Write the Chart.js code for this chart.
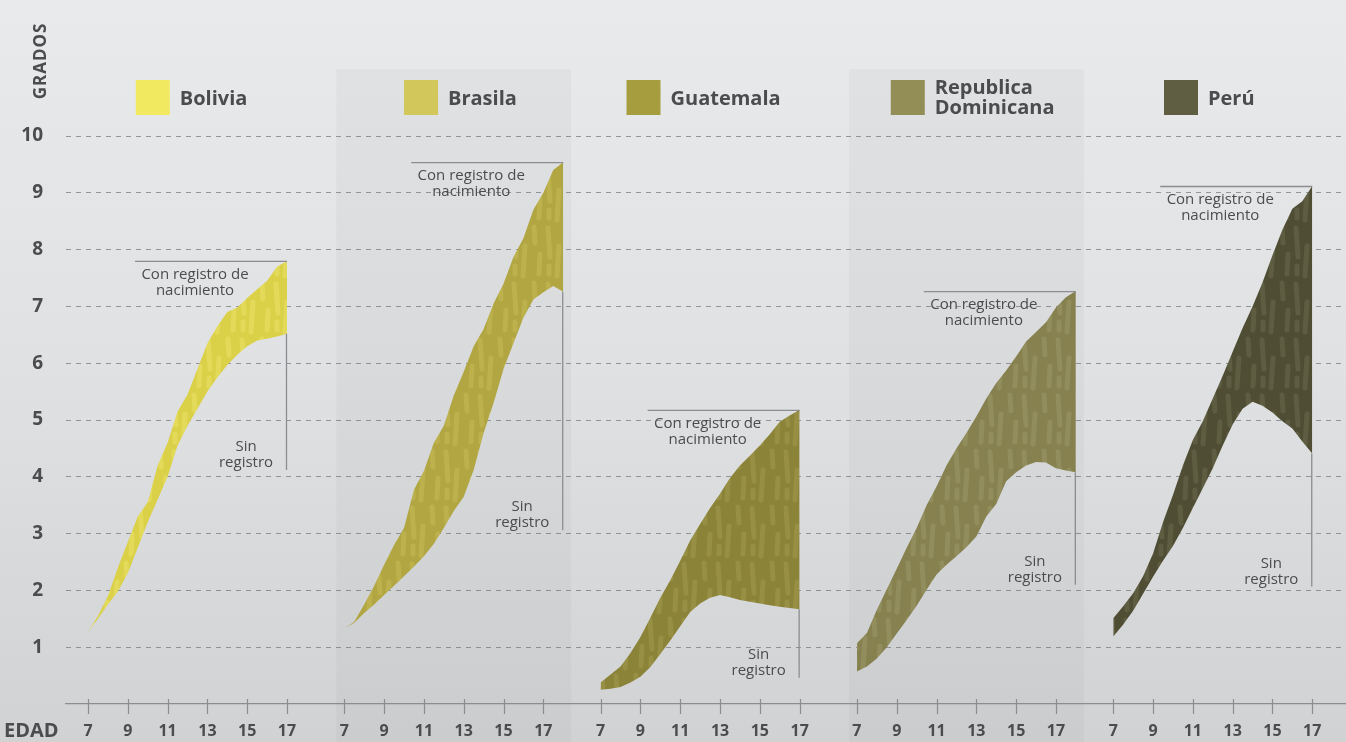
<!DOCTYPE html>
<html>
<head>
<meta charset="utf-8">
<title>Grados por edad</title>
<script src="https://cdn.jsdelivr.net/npm/chart.js@4.4.1/dist/chart.umd.min.js"></script>
<style>
  html, body { margin: 0; padding: 0; background: #e2e3e5; }
  #chart { display: block; }
</style>
</head>
<body>
<canvas id="chart" width="1346" height="742"></canvas>
<script>
"use strict";

// ---- data ----
const countries = ["Bolivia", "Brasila", "Guatemala", "Republica Dominicana", "Perú"];
const ages17 = [7, 7.5, 8, 8.5, 9, 9.5, 10, 10.5, 11, 11.5, 12, 12.5, 13, 13.5, 14, 14.5, 15, 15.5, 16, 16.5, 17];
const ages18 = [7, 7.5, 8, 8.5, 9, 9.5, 10, 10.5, 11, 11.5, 12, 12.5, 13, 13.5, 14, 14.5, 15, 15.5, 16, 16.5, 17, 17.5, 18];

const boliviaCon = [1.27, 1.55, 1.9, 2.4, 2.85, 3.3, 3.55, 4.2, 4.6, 5.15, 5.45, 5.9, 6.35, 6.65, 6.9, 6.98, 7.15, 7.3, 7.45, 7.7, 7.8];
const boliviaSin = [1.27, 1.5, 1.75, 1.98, 2.3, 2.75, 3.2, 3.6, 4.0, 4.55, 4.9, 5.2, 5.5, 5.75, 5.97, 6.15, 6.3, 6.4, 6.43, 6.47, 6.52];

const brasilaCon = [1.33, 1.45, 1.75, 2.08, 2.45, 2.8, 3.1, 3.77, 4.1, 4.6, 4.9, 5.43, 5.85, 6.3, 6.6, 7.05, 7.4, 7.87, 8.2, 8.7, 9.0, 9.4, 9.54];
const brasilaSin = [1.33, 1.43, 1.6, 1.75, 1.92, 2.08, 2.25, 2.42, 2.6, 2.82, 3.1, 3.4, 3.65, 4.12, 4.77, 5.3, 5.9, 6.35, 6.8, 7.12, 7.25, 7.36, 7.26];

const guatemalaCon = [0.38, 0.52, 0.66, 0.9, 1.18, 1.52, 1.87, 2.18, 2.52, 2.88, 3.17, 3.45, 3.7, 3.98, 4.2, 4.37, 4.55, 4.75, 4.97, 5.08, 5.18];
const guatemalaSin = [0.25, 0.27, 0.3, 0.38, 0.48, 0.65, 0.88, 1.12, 1.37, 1.62, 1.77, 1.87, 1.92, 1.88, 1.83, 1.8, 1.77, 1.74, 1.71, 1.69, 1.67];

const dominicanaCon = [1.07, 1.25, 1.66, 2.02, 2.38, 2.75, 3.1, 3.5, 3.83, 4.2, 4.5, 4.77, 5.06, 5.38, 5.65, 5.87, 6.12, 6.38, 6.55, 6.72, 6.98, 7.16, 7.27];
const dominicanaSin = [0.57, 0.66, 0.8, 1.0, 1.24, 1.48, 1.73, 2.01, 2.28, 2.45, 2.6, 2.76, 2.95, 3.3, 3.52, 3.92, 4.08, 4.2, 4.26, 4.25, 4.15, 4.11, 4.08];

const peruCon = [1.51, 1.72, 1.95, 2.25, 2.65, 3.2, 3.68, 4.2, 4.65, 4.98, 5.38, 5.78, 6.2, 6.62, 7.0, 7.42, 7.9, 8.35, 8.72, 8.85, 9.12];
const peruSin = [1.19, 1.4, 1.64, 1.94, 2.24, 2.52, 2.78, 3.1, 3.45, 3.8, 4.15, 4.55, 4.92, 5.2, 5.32, 5.25, 5.13, 4.98, 4.85, 4.62, 4.41];

const xTickLabels = [7, 9, 11, 13, 15, 17];
const yTickLabels = [1, 2, 3, 4, 5, 6, 7, 8, 9, 10];

// ---- layout / style ----
const PANEL_SHIFT = 12.88;          // x units between the 5 small charts
const legendAge = [9.4, 10.0, 8.3, 8.7, 9.55];
const sinLineEnd = [4.12, 3.06, 0.46, 2.1, 2.07];   // where the "Sin registro" leader stops
const bandBase = ["#dbd149", "#b1a641", "#8b8337", "#86814f", "#4f4e34"];
const bandLight = ["#e3da5a", "#bcb14d", "#978f43", "#928d5d", "#5e5d42"];
const legendColors = ["#f1e95f", "#d2c75a", "#a69d3f", "#938d56", "#5f5e43"];
const TEXT = "#4b4c4e";
const FONT = "'Open Sans', 'Noto Sans', sans-serif";

// soft streaky texture like the printed original
function makePattern(base, light) {
  const c = document.createElement("canvas");
  c.width = 34; c.height = 56;
  const g = c.getContext("2d");
  g.fillStyle = base;
  g.fillRect(0, 0, 34, 56);
  g.strokeStyle = light;
  g.lineCap = "round";
  g.lineWidth = 5;
  g.beginPath();
  g.moveTo(4, 4); g.lineTo(6, 33);
  g.moveTo(15, 22); g.lineTo(13, 52);
  g.moveTo(24, 3); g.lineTo(25, 19);
  g.moveTo(30, 30); g.lineTo(29, 50);
  g.moveTo(5, 42); g.lineTo(5, 50);
  g.stroke();
  return g.createPattern(c, "repeat");
}

const series = [
  { ages: ages17, con: boliviaCon, sin: boliviaSin },
  { ages: ages18, con: brasilaCon, sin: brasilaSin },
  { ages: ages17, con: guatemalaCon, sin: guatemalaSin },
  { ages: ages18, con: dominicanaCon, sin: dominicanaSin },
  { ages: ages17, con: peruCon, sin: peruSin }
];

const datasets = [];
series.forEach(function (s, i) {
  const off = i * PANEL_SHIFT;
  datasets.push({
    label: countries[i] + " con registro",
    data: s.ages.map(function (a, k) { return { x: a + off, y: s.con[k] }; }),
    fill: "+1",
    backgroundColor: makePattern(bandBase[i], bandLight[i]),
    borderWidth: 0,
    pointRadius: 0,
    tension: 0
  });
  datasets.push({
    label: countries[i] + " sin registro",
    data: s.ages.map(function (a, k) { return { x: a + off, y: s.sin[k] }; }),
    fill: false,
    borderWidth: 0,
    pointRadius: 0,
    tension: 0
  });
});

// background, shaded panels, legend boxes, annotations
const decorPlugin = {
  id: "decor",
  beforeDraw(chart) {
    const ctx = chart.ctx;
    const x = chart.scales.x;
    const g = ctx.createLinearGradient(0, 0, 0, chart.height);
    g.addColorStop(0, "#e9eaec");
    g.addColorStop(0.5, "#e0e1e3");
    g.addColorStop(1, "#d1d2d4");
    ctx.save();
    ctx.fillStyle = g;
    ctx.fillRect(0, 0, chart.width, chart.height);
    ctx.fillStyle = "rgba(110,112,118,0.06)";
    [1, 3].forEach(function (i) {
      const l = x.getPixelForValue(6.6 + i * PANEL_SHIFT);
      const r = x.getPixelForValue(18.4 + i * PANEL_SHIFT);
      ctx.fillRect(l, 69, r - l, chart.height - 69);
    });
    ctx.restore();
  },
  afterDatasetsDraw(chart) {
    const ctx = chart.ctx;
    const x = chart.scales.x, y = chart.scales.y;
    ctx.save();
    series.forEach(function (s, i) {
      const off = i * PANEL_SHIFT;
      const last = s.ages.length - 1;
      const ex = x.getPixelForValue(s.ages[last] + off);
      const topY = y.getPixelForValue(s.con[last]);
      const lowY = y.getPixelForValue(s.sin[last]);
      const botY = y.getPixelForValue(sinLineEnd[i]);
      ctx.strokeStyle = "#8c8d90";
      ctx.lineWidth = 1.3;
      ctx.beginPath();
      ctx.moveTo(ex - 152, topY + 0.5);
      ctx.lineTo(ex, topY + 0.5);
      ctx.moveTo(ex - 0.5, lowY);
      ctx.lineTo(ex - 0.5, botY);
      ctx.stroke();

      ctx.fillStyle = TEXT;
      ctx.font = "15px " + FONT;
      ctx.textAlign = "center";
      ctx.textBaseline = "middle";
      ctx.fillText("Con registro de", ex - 152 + 60, topY + 14);
      ctx.fillText("nacimiento", ex - 152 + 60, topY + 30);
      ctx.fillText("Sin", ex - 41, botY - 23);
      ctx.fillText("registro", ex - 41, botY - 7);

      // legend
      const bx = x.getPixelForValue(legendAge[i] + off);
      ctx.fillStyle = legendColors[i];
      ctx.fillRect(bx, 80, 34, 35);
      ctx.fillStyle = TEXT;
      ctx.font = "bold 20px " + FONT;
      ctx.textAlign = "left";
      const parts = countries[i].split(" ");
      if (parts.length > 1) {
        ctx.fillText(parts[0], bx + 44, 88);
        ctx.fillText(parts[1], bx + 44, 108);
      } else {
        ctx.fillText(countries[i], bx + 44, 99);
      }
    });
    ctx.restore();
  },
  afterDraw(chart) {
    const ctx = chart.ctx;
    const x = chart.scales.x;
    const base = chart.chartArea.bottom;
    ctx.save();
    ctx.strokeStyle = "#8c8d90";
    ctx.lineWidth = 1.2;
    ctx.beginPath();
    x.ticks.forEach(function (t) {
      const px = Math.round(x.getPixelForValue(t.value)) + 0.5;
      ctx.moveTo(px, base - 5);
      ctx.lineTo(px, base + 10);
    });
    ctx.stroke();

    ctx.fillStyle = TEXT;
    ctx.font = "bold 20px " + FONT;
    ctx.textAlign = "left";
    ctx.textBaseline = "middle";
    ctx.fillText("EDAD", 4, 731);

    ctx.translate(41, 61);
    ctx.rotate(-Math.PI / 2);
    ctx.textAlign = "center";
    ctx.font = "bold 17px " + FONT;
    ctx.letterSpacing = "1px";
    ctx.fillText("GRADOS", 0, 0);
    ctx.restore();
  }
};

const chart = new Chart(document.getElementById("chart").getContext("2d"), {
  type: "line",
  data: { datasets: datasets },
  options: {
    responsive: false,
    animation: false,
    devicePixelRatio: 1,
    layout: { padding: { top: 136, left: 0, right: 0, bottom: 0 } },
    plugins: {
      legend: { display: false },
      tooltip: { enabled: false },
      filler: { propagate: false }
    },
    scales: {
      x: {
        type: "linear",
        min: 5.894,
        max: 70.216,
        afterFit(scale) { scale.height = 38; },
        afterBuildTicks(scale) {
          const t = [];
          for (let i = 0; i < countries.length; i++) {
            xTickLabels.forEach(function (v) { t.push({ value: v + i * PANEL_SHIFT }); });
          }
          scale.ticks = t;
        },
        grid: { display: false, drawTicks: false },
        border: { display: true, color: "#8c8d90", width: 1.3 },
        ticks: {
          autoSkip: false,
          maxRotation: 0,
          padding: 18,
          color: TEXT,
          font: { family: FONT, size: 16, weight: "bold" },
          callback: function (value, index) { return xTickLabels[index % xTickLabels.length]; }
        }
      },
      y: {
        min: 0,
        max: 10,
        z: 1,   // dashed grid sits over the bands, as in the original
        afterFit(scale) { scale.width = 66; },
        afterBuildTicks(scale) {
          scale.ticks = [{ value: 0 }].concat(yTickLabels.map(function (v) { return { value: v }; }));
        },
        grid: {
          drawTicks: false,
          color: function (c) { return c.tick && c.tick.value === 0 ? "rgba(0,0,0,0)" : "rgba(120,121,124,0.75)"; },
          lineWidth: 1
        },
        border: { display: false, dash: [5, 5] },
        ticks: {
          padding: 23,
          color: TEXT,
          font: { family: FONT, size: 19, weight: "bold" },
          callback: function (v) { return v === 0 ? "" : v; }
        }
      }
    }
  },
  plugins: [decorPlugin]
});
</script>
</body>
</html>
